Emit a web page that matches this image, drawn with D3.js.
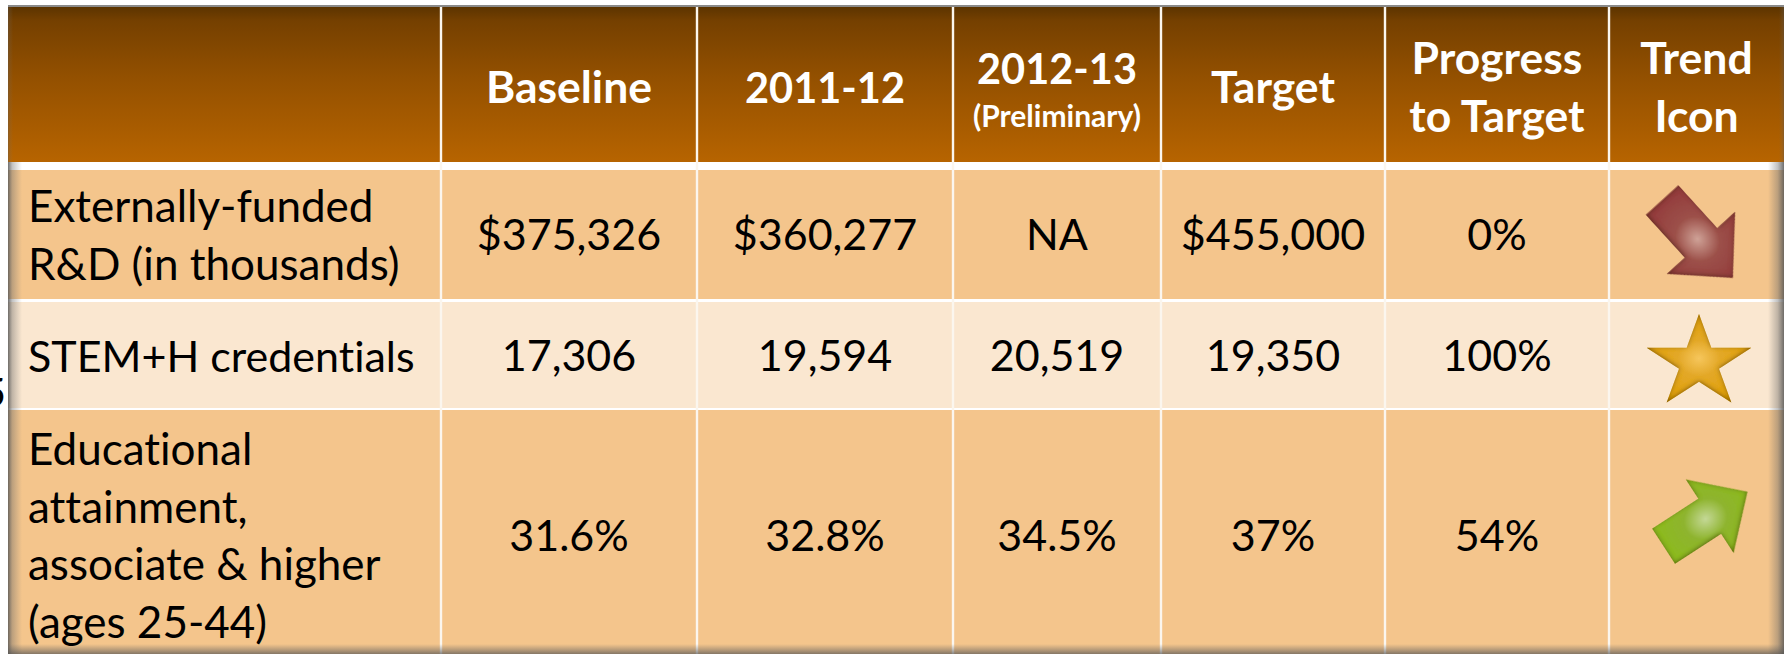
<!DOCTYPE html>
<html lang="en">
<head>
	<meta charset="UTF-8">
	<title>Progress to target table</title>
	<script src="https://d3js.org/d3.v7.min.js" charset="utf-8"></script>
	<style>
		html, body { margin: 0; padding: 0; background: #fff; overflow: hidden; }
		svg { display: block; }
		text { font-family: Lato, "Open Sans", sans-serif; font-variant-ligatures: none; }
	</style>
</head>
<body>
	<svg></svg>
	<script>
		// table content
		const columns = ['label', 'Baseline', '2011-12', '2012-13', 'Target', 'Progress', 'Trend']
		const headerLines = [[], ['Baseline'], ['2011-12'], ['2012-13'], ['Target'], ['Progress', 'to Target'], ['Trend', 'Icon']]
		const preliminaryNote = '(Preliminary)'
		const rowLabels = [
			['Externally-funded', 'R&D (in thousands)'],
			['STEM+H credentials'],
			['Educational', 'attainment,', 'associate & higher', '(ages 25-44)']
		]
		const baselineValues = ['$375,326', '17,306', '31.6%']
		const values201112 = ['$360,277', '19,594', '32.8%']
		const values201213 = ['NA', '20,519', '34.5%']
		const targetValues = ['$455,000', '19,350', '37%']
		const progressValues = ['0%', '100%', '54%']
		const trendIcons = ['down', 'star', 'up']

		// layout of the grid, measured on the picture
		const width = 1788, height = 654
		const colEdges = [8, 441, 697, 953, 1161, 1385, 1609, 1784]
		const rowTops = [170, 302, 410]
		const rowBottoms = [299, 408, 660]
		const rowFills = ['#f4c58c', '#fae7d0', '#f4c58c']
		const headTop = 7, headBottom = 162
		const lineHeight = 57.5

		const colLeft = d3.scaleOrdinal(columns, colEdges.slice(0, -1))
		const colRight = d3.scaleOrdinal(columns, colEdges.slice(1))
		const colMid = d => (colLeft(d) + colRight(d)) / 2
		const rowMid = i => (rowTops[i] + rowBottoms[i]) / 2

		let svg = d3.select('svg')
			.attr('width', width)
			.attr('height', height)

		let defs = svg.append('defs')

		function gradient(id, type, stops, attrs) {
			let g = defs.append(type).attr('id', id)
			Object.entries(attrs).forEach(([k, v]) => g.attr(k, v))
			stops.forEach(s => g.append('stop').attr('offset', s[0]).attr('stop-color', s[1]).attr('stop-opacity', s[2] === undefined ? 1 : s[2]))
		}

		gradient('head', 'linearGradient', [[0, '#5c3400'], [0.09, '#754000'], [0.45, '#935000'], [1, '#b76400']], {x1: 0, y1: 0, x2: 0, y2: 1})
		gradient('edgeL', 'linearGradient', [[0, '#555', 0.85], [0.3, '#666', 0.4], [1, '#777', 0]], {x1: 0, y1: 0, x2: 1, y2: 0})
		gradient('edgeR', 'linearGradient', [[0, '#666', 0], [0.6, '#666', 0.4], [1, '#555', 0.85]], {x1: 0, y1: 0, x2: 1, y2: 0})
		gradient('edgeB', 'linearGradient', [[0, '#666', 0], [1, '#555', 0.7]], {x1: 0, y1: 0, x2: 0, y2: 1})
		gradient('iconDown', 'radialGradient', [[0, '#cfa297'], [0.45, '#9c5049'], [1, '#933c3d']], {cx: 0.5, cy: 0.5, r: 0.5})
		gradient('iconUp', 'radialGradient', [[0, '#c4d896'], [0.45, '#8eb42e'], [1, '#8cba20']], {cx: 0.5, cy: 0.5, r: 0.5})
		gradient('iconStar', 'radialGradient', [[0, '#f6c65c'], [0.4, '#e3a828'], [1, '#e0a010']], {cx: 0.5, cy: 0.5, r: 0.5})

		// dark inner bevel for the icons, heavier on the lower edges
		let bevel = defs.append('filter').attr('id', 'bevel')
			.attr('x', '-10%').attr('y', '-10%').attr('width', '120%').attr('height', '120%')
		bevel.append('feComponentTransfer').attr('in', 'SourceAlpha').attr('result', 'inv')
			.append('feFuncA').attr('type', 'table').attr('tableValues', '1 0')
		bevel.append('feOffset').attr('in', 'inv').attr('dx', 0).attr('dy', -1.5).attr('result', 'moved')
		bevel.append('feGaussianBlur').attr('in', 'moved').attr('stdDeviation', 2.4).attr('result', 'blur')
		bevel.append('feComposite').attr('in', 'blur').attr('in2', 'SourceAlpha').attr('operator', 'in').attr('result', 'edge')
		bevel.append('feFlood').attr('flood-color', '#3a2008').attr('flood-opacity', 0.8).attr('result', 'col')
		bevel.append('feComposite').attr('in', 'col').attr('in2', 'edge').attr('operator', 'in').attr('result', 'shade')
		let merge = bevel.append('feMerge')
		merge.append('feMergeNode').attr('in', 'SourceGraphic')
		merge.append('feMergeNode').attr('in', 'shade')

		// header band
		svg.append('rect').attr('x', colEdges[0]).attr('y', headTop - 2)
			.attr('width', colEdges[7] - colEdges[0]).attr('height', 2).attr('fill', '#8a8a8a')
		svg.append('rect').attr('x', colEdges[0]).attr('y', headTop)
			.attr('width', colEdges[7] - colEdges[0]).attr('height', headBottom - headTop).attr('fill', 'url(#head)')

		// body rows
		svg.selectAll('rect.row')
			.data(rowTops)
			.join('rect')
			.attr('class', 'row')
			.attr('x', colEdges[0])
			.attr('y', d => d)
			.attr('width', colEdges[7] - colEdges[0])
			.attr('height', (d, i) => rowBottoms[i] - d)
			.attr('fill', (d, i) => rowFills[i])

		// column separators
		svg.selectAll('line.sep')
			.data(columns.slice(1))
			.join('line')
			.attr('class', 'sep')
			.attr('x1', d => colLeft(d))
			.attr('x2', d => colLeft(d))
			.attr('y1', headTop)
			.attr('y2', height)
			.attr('stroke', '#fbf6ee')
			.attr('stroke-width', 2.4)

		// edge shading
		svg.append('rect').attr('x', colEdges[0]).attr('y', headBottom).attr('width', 14).attr('height', height - headBottom).attr('fill', 'url(#edgeL)')
		svg.append('rect').attr('x', colEdges[0]).attr('y', headTop).attr('width', 5).attr('height', headBottom - headTop).attr('fill', 'url(#edgeL)').attr('opacity', 0.5)
		svg.append('rect').attr('x', colEdges[7] - 16).attr('y', headBottom).attr('width', 16).attr('height', height - headBottom).attr('fill', 'url(#edgeR)')
		svg.append('rect').attr('x', colEdges[7] - 5).attr('y', headTop).attr('width', 5).attr('height', headBottom - headTop).attr('fill', 'url(#edgeR)').attr('opacity', 0.5)
		svg.append('rect').attr('x', colEdges[0]).attr('y', height - 10).attr('width', colEdges[7] - colEdges[0]).attr('height', 10).attr('fill', 'url(#edgeB)')

		// header text, Lato's letters run narrower than its digits against the original face
		const headSize = d => /\d/.test(d) ? 41.5 : 44.5
		svg.selectAll('g.head')
			.data(columns)
			.join('g')
			.attr('class', 'head')
			.each(function(col, c) {
				let lines = headerLines[c]
				let isNoted = col === '2012-13'
				d3.select(this).selectAll('text')
					.data(lines)
					.join('text')
					.attr('x', colMid(col))
					.attr('y', (d, i) => isNoted ? 84 : (headTop + headBottom) / 2 + 18.5 + (i - (lines.length - 1) / 2) * lineHeight)
					.attr('text-anchor', 'middle')
					.attr('font-size', headSize)
					.attr('font-weight', 700)
					.attr('fill', '#fff')
					.text(d => d)
			})
		svg.append('text')
			.attr('x', colMid('2012-13'))
			.attr('y', 127)
			.attr('text-anchor', 'middle')
			.attr('font-size', 30)
			.attr('font-weight', 700)
			.attr('fill', '#fff')
			.text(preliminaryNote)

		// row labels
		svg.selectAll('g.label')
			.data(rowLabels)
			.join('g')
			.attr('class', 'label')
			.each(function(lines, r) {
				d3.select(this).selectAll('text')
					.data(lines)
					.join('text')
					.attr('x', 28)
					.attr('y', (d, i) => rowMid(r) + 16.5 + (i - (lines.length - 1) / 2) * lineHeight)
					.attr('font-size', d => d.startsWith('STEM') ? 43 : 44)
					.attr('fill', '#000')
					.text(d => d)
			})

		// value cells
		const valueColumns = [
			['Baseline', baselineValues],
			['2011-12', values201112],
			['2012-13', values201213],
			['Target', targetValues],
			['Progress', progressValues]
		]
		valueColumns.forEach(([col, vals]) => {
			svg.append('g').selectAll('text')
				.data(vals)
				.join('text')
				.attr('x', colMid(col))
				.attr('y', (d, i) => rowMid(i) + 15.5)
				.attr('text-anchor', 'middle')
				.attr('font-size', 43)
				.attr('fill', '#000')
				.text(d => d)
		})

		// trend icons
		const arrowShape = [[-50, -22], [5, -22], [5, -46], [50, 0], [5, 46], [5, 22], [-50, 22]]
		const arrowPath = d3.line().curve(d3.curveLinearClosed)(arrowShape)
		const starPath = d3.symbol().type(d3.symbolStar).size(3396)()
		const iconStyles = {
			down: {d: arrowPath, fill: 'url(#iconDown)', dx: 1, dy: 4.5, angle: 47.7, sx: 1.05, sy: 1},
			star: {d: starPath, fill: 'url(#iconStar)', dx: 2.5, dy: 8, angle: 0, sx: 1, sy: 0.89},
			up: {d: arrowPath, fill: 'url(#iconUp)', dx: 9, dy: -16, angle: -33, sx: 1, sy: 0.95}
		}
		svg.selectAll('path.icon')
			.data(trendIcons)
			.join('path')
			.attr('class', 'icon')
			.attr('d', d => iconStyles[d].d)
			.attr('fill', d => iconStyles[d].fill)
			.attr('filter', 'url(#bevel)')
			.attr('transform', (d, i) => {
				let s = iconStyles[d]
				return `translate(${colMid('Trend') + s.dx},${rowMid(i) + s.dy}) rotate(${s.angle}) scale(${s.sx},${s.sy})`
			})

		// scrap of slide text showing left of the table
		svg.append('text')
			.attr('x', 6)
			.attr('y', 407)
			.attr('text-anchor', 'end')
			.attr('font-size', 41)
			.attr('fill', '#000')
			.text('5')
	</script>
</body>
</html>
